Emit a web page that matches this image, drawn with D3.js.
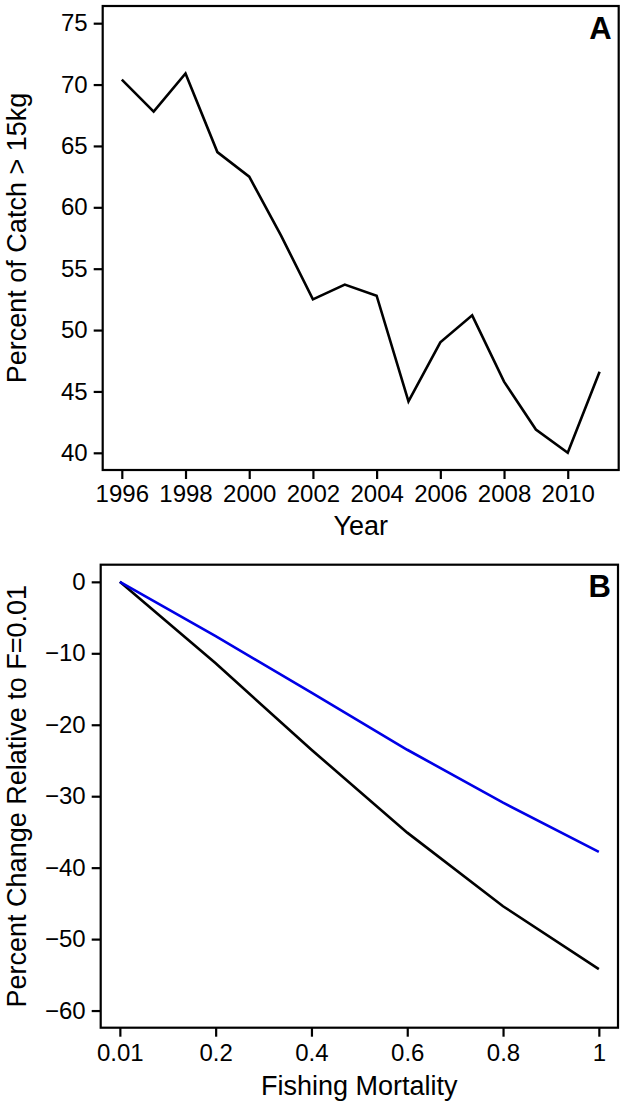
<!DOCTYPE html>
<html>
<head>
<meta charset="utf-8">
<script src="https://cdn.jsdelivr.net/npm/d3@7"></script>
<style>
  html, body { margin: 0; padding: 0; background: #fff; }
  svg { display: block; }
  text { font-family: "Liberation Sans", Arial, sans-serif; fill: #000; }
</style>
</head>
<body>
<svg id="chart" width="628" height="1109"></svg>
<script>
// ---------- Data ----------
const years = [1996, 1997, 1998, 1999, 2000, 2001, 2002, 2003, 2004, 2005, 2006, 2007, 2008, 2009, 2010, 2011];
const pctCatchOver15kg = [70.4, 67.8, 70.9, 64.5, 62.5, 57.7, 52.5, 53.7, 52.8, 44.2, 49.0, 51.2, 45.8, 41.9, 40.0, 46.6];
const yearTicks = [1996, 1998, 2000, 2002, 2004, 2006, 2008, 2010];
const pctTicksA = [40, 45, 50, 55, 60, 65, 70, 75];

const fishingMortality = ["0.01", "0.2", "0.4", "0.6", "0.8", "1"];
const seriesBlack = [0, -11.4, -23.5, -35.1, -45.4, -54.2];
const seriesBlue = [0, -7.6, -15.5, -23.5, -30.9, -37.8];
const pctTicksB = [0, -10, -20, -30, -40, -50, -60];

// ---------- Layout ----------
const svg = d3.select("#chart");
const tickFont = 24, titleFont = 27, tagFont = 31, tickLen = 9;

function frame(g, x0, y0, x1, y1) {
  g.append("rect").attr("x", x0).attr("y", y0).attr("width", x1 - x0).attr("height", y1 - y0)
    .attr("fill", "none").attr("stroke", "#000").attr("stroke-width", 2.2);
}

function styleAxis(ax) {
  ax.select(".domain").remove();
  ax.selectAll(".tick line").attr("stroke", "#000").attr("stroke-width", 2.2);
  ax.selectAll(".tick text").attr("font-size", tickFont).attr("font-family", "Liberation Sans, Arial, sans-serif").attr("fill", "#000");
}

// ---------- Panel A ----------
{
  const L = 102.7, R = 618.7, T = 6, B = 470;
  const g = svg.append("g");
  const x = d3.scaleLinear().domain([1995.4, 2011.6]).range([L, R]);
  const y = d3.scaleLinear().domain([38.6, 76.4]).range([B, T]);

  const line = d3.line().x((d, i) => x(years[i])).y(d => y(d));
  g.append("path").datum(pctCatchOver15kg).attr("d", line)
    .attr("fill", "none").attr("stroke", "#000").attr("stroke-width", 2.6).attr("stroke-linejoin", "miter");

  frame(g, L, T, R, B);

  const xa = g.append("g").attr("transform", `translate(0,${B})`)
    .call(d3.axisBottom(x).tickValues(yearTicks).tickFormat(d3.format("d")).tickSize(tickLen).tickPadding(6));
  styleAxis(xa);
  const ya = g.append("g").attr("transform", `translate(${L},0)`)
    .call(d3.axisLeft(y).tickValues(pctTicksA).tickFormat(d3.format("d")).tickSize(tickLen).tickPadding(6));
  styleAxis(ya);

  g.append("text").attr("x", (L + R) / 2).attr("y", B + 65).attr("text-anchor", "middle")
    .attr("font-size", titleFont).text("Year");
  g.append("text").attr("transform", `translate(26,${(T + B) / 2}) rotate(-90)`).attr("text-anchor", "middle")
    .attr("font-size", titleFont).text("Percent of Catch > 15kg");
  g.append("text").attr("x", R - 7).attr("y", T + 33).attr("text-anchor", "end")
    .attr("font-size", tagFont).attr("font-weight", "bold").text("A");
}

// ---------- Panel B ----------
{
  const L = 100.7, R = 618, T = 564.7, B = 1027.7;
  const g = svg.append("g");
  const x = d3.scalePoint().domain(fishingMortality).range([L, R]).padding(0.2);
  const y = d3.scaleLinear().domain([-62.4, 2.4]).range([B, T]);

  const line = d3.line().x((d, i) => x(fishingMortality[i])).y(d => y(d));
  g.append("path").datum(seriesBlack).attr("d", line)
    .attr("fill", "none").attr("stroke", "#000").attr("stroke-width", 2.6);
  g.append("path").datum(seriesBlue).attr("d", line)
    .attr("fill", "none").attr("stroke", "#0000e6").attr("stroke-width", 2.6);

  frame(g, L, T, R, B);

  const xa = g.append("g").attr("transform", `translate(0,${B})`)
    .call(d3.axisBottom(x).tickSize(tickLen).tickPadding(7));
  styleAxis(xa);
  const ya = g.append("g").attr("transform", `translate(${L},0)`)
    .call(d3.axisLeft(y).tickValues(pctTicksB).tickFormat(d => d < 0 ? "\u2212" + Math.abs(d) : String(d)).tickSize(tickLen).tickPadding(6));
  styleAxis(ya);

  g.append("text").attr("x", (L + R) / 2).attr("y", B + 67).attr("text-anchor", "middle")
    .attr("font-size", titleFont).text("Fishing Mortality");
  g.append("text").attr("transform", `translate(26,${(T + B) / 2}) rotate(-90)`).attr("text-anchor", "middle")
    .attr("font-size", titleFont).text("Percent Change Relative to F=0.01");
  g.append("text").attr("x", R - 7).attr("y", T + 32).attr("text-anchor", "end")
    .attr("font-size", tagFont).attr("font-weight", "bold").text("B");
}
</script>
</body>
</html>
